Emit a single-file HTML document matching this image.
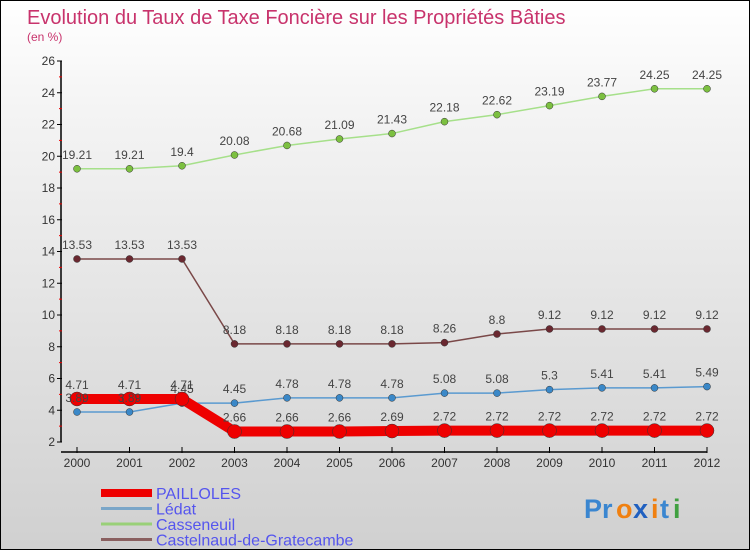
<!DOCTYPE html>
<html><head><meta charset="utf-8"><style>
body{margin:0}
#c{position:relative;width:748px;height:548px;border:1px solid #000;background:linear-gradient(#fff,#f4f4f4 20%,#d0d0d0);overflow:hidden;font-family:"Liberation Sans",sans-serif}
</style></head><body>
<div id="c">
<svg id="s" width="748" height="548" xmlns="http://www.w3.org/2000/svg" style="position:absolute;left:0;top:0">
<text x="26" y="23" font-size="20" fill="#c8336c">Evolution du Taux de Taxe Foncière sur les Propriétés Bâties</text>
<text x="26" y="40" font-size="12" fill="#c8336c">(en %)</text>
<g id="axes"></g><g id="series"></g><g id="labels"></g><g id="legend"></g>
<g font-size="27" font-weight="bold">
<text x="583" y="517" fill="#3a86d0">Pr</text><text x="615" y="517" fill="#f08010">o</text><text x="632" y="517" fill="#2060c0">x</text><text x="650" y="517" fill="#f08010">i</text><text x="659" y="517" fill="#3a86d0">t</text><text x="672" y="517" fill="#40a040">i</text>
</g>
</svg>
</div>
<script>
const years=[2000,2001,2002,2003,2004,2005,2006,2007,2008,2009,2010,2011,2012];
const yTicks=[2,4,6,8,10,12,14,16,18,20,22,24,26];
const pailloles=[4.71,4.71,4.71,2.66,2.66,2.66,2.69,2.72,2.72,2.72,2.72,2.72,2.72];
const ledat=[3.89,3.89,4.45,4.45,4.78,4.78,4.78,5.08,5.08,5.3,5.41,5.41,5.49];
const casseneuil=[19.21,19.21,19.4,20.08,20.68,21.09,21.43,22.18,22.62,23.19,23.77,24.25,24.25];
const castelnaud=[13.53,13.53,13.53,8.18,8.18,8.18,8.18,8.26,8.8,9.12,9.12,9.12,9.12];
const NS="http://www.w3.org/2000/svg";
const xS=i=>76+i*52.5;
const yS=v=>441-(v-2)*381/24;
function mk(t,a,p){const e=document.createElementNS(NS,t);for(const k in a)e.setAttribute(k,a[k]);p.appendChild(e);return e;}
const ax=document.getElementById('axes');
let l=mk('line',{x1:60,y1:60,x2:60,y2:441,stroke:'#000','stroke-width':1.5},ax);


l=mk('line',{x1:60,y1:451,x2:706,y2:451,stroke:'#000','stroke-width':1.5},ax);


yTicks.forEach(v=>{
 mk('line',{x1:56,y1:yS(v),x2:61,y2:yS(v),stroke:'#000'},ax);
 if(v<26)mk('line',{x1:58,y1:yS(v+1),x2:61,y2:yS(v+1),stroke:'#e00'},ax);
 const t=mk('text',{x:54,y:yS(v)+4,'text-anchor':'end','font-size':12,fill:'#333'},ax);
 t.textContent=v;
 
 
});
years.forEach((y,i)=>{
 mk('line',{x1:xS(i),y1:446,x2:xS(i),y2:452,stroke:'#000'},ax);
 const t=mk('text',{x:xS(i),y:466,'text-anchor':'middle','font-size':12,fill:'#333'},ax);
 t.textContent=y;
 
 
});
const sg=document.getElementById('series');
const lab=document.getElementById('labels');
const defs=[
 {name:'casseneuil',data:casseneuil,line:'#a6e08a',w:1.5,dot:'#7cc040',r:3.5},
 {name:'castelnaud',data:castelnaud,line:'#7a4848',w:1.5,dot:'#6a2830',r:3.5},
 {name:'ledat',data:ledat,line:'#5a9ad0',w:1.5,dot:'#3a88c8',r:3.5},
 {name:'pailloles',data:pailloles,line:'#ee0000',w:10,dot:'#ee0000',r:7}
];
defs.forEach(d=>{
 const g=mk('g',{},sg);
 
 
 const pl=mk('polyline',{points:d.data.map((v,i)=>xS(i)+','+yS(v)).join(' '),fill:'none',stroke:d.line,'stroke-width':d.w},g);
 
 
 d.data.forEach((v,i)=>{
  const c=mk('circle',{cx:xS(i),cy:yS(v),r:d.r,fill:d.dot,stroke:'#333','stroke-width':0.5},g);
  
  
  const t=mk('text',{x:xS(i),y:yS(v)-10,'text-anchor':'middle','font-size':12,fill:'#444'},lab);
  t.textContent=v;
  
  
 });
});
const lg=document.getElementById('legend');
const leg=[['PAILLOLES','#ee0000',8],['Lédat','#7aa6c8',3],['Casseneuil','#99d078',3],['Castelnaud-de-Gratecambe','#8a6060',3]];
leg.forEach((e,i)=>{
 const y=492+i*15.5;
 const g=mk('g',{},lg);
 
 
 mk('line',{x1:100,y1:y,x2:151,y2:y,stroke:e[1],'stroke-width':e[2]},g);
 const t=mk('text',{x:155,y:y+6,'font-size':16,fill:'#5555ee'},g);
 t.textContent=e[0];
});
</script>
</body></html>
